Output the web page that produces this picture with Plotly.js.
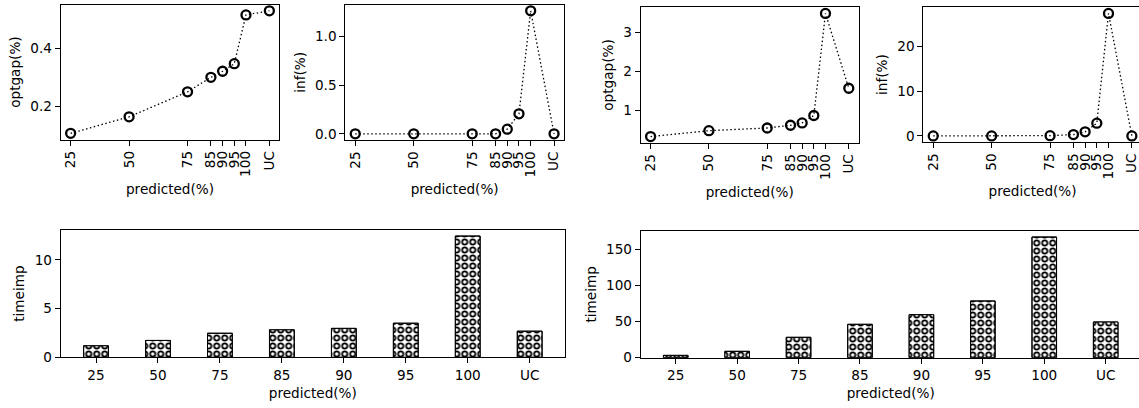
<!DOCTYPE html>
<html>
<head>
<meta charset="utf-8">
<script src="https://cdn.plot.ly/plotly-3.0.1.min.js"></script>
<style>
  html, body { margin: 0; padding: 0; overflow: hidden; background: #fff; }
  #chart { width: 1146px; height: 408px; }
</style>
</head>
<body>
<div id="chart"></div>
<script>
// ---- data ----
const xPos = [25, 50, 75, 85, 90, 95, 100, 110];
const xLabels = ['25', '50', '75', '85', '90', '95', '100', 'UC'];
const categories = ['25', '50', '75', '85', '90', '95', '100', 'UC'];

const optgapA = [0.106, 0.163, 0.249, 0.299, 0.320, 0.346, 0.514, 0.528];
const infA = [0.0, 0.0, 0.0, 0.0, 0.048, 0.205, 1.26, 0.0];
const optgapB = [0.32, 0.47, 0.54, 0.61, 0.67, 0.86, 3.48, 1.56];
const infB = [0.0, 0.0, 0.05, 0.3, 0.9, 2.85, 27.4, 0.0];

const timeimpA = [1.18, 1.73, 2.47, 2.82, 2.97, 3.5, 12.45, 2.68];
const timeimpB = [3.2, 8.8, 28.2, 46.2, 59.5, 78.5, 167, 49.4];

// ---- helpers ----
const W = 1146, H = 408;
const FONT = {family: 'DejaVu Sans, sans-serif', size: 13.6, color: '#000'};
function dx(a, b) { return [a / W, Math.min(1, b / W)]; }
function dy(top, bottom) { return [1 - bottom / H, 1 - top / H]; }
function mlim(arr, lo) {
  const mn = lo !== undefined ? lo : Math.min(...arr), mx = Math.max(...arr);
  const p = (mx - mn) * 0.05;
  return lo !== undefined ? [lo, mx * 1.05] : [mn - p, mx + p];
}
const axBase = {
  showline: true, mirror: true, linecolor: '#000', linewidth: 1,
  ticks: 'outside', ticklen: 5, tickwidth: 1, tickcolor: '#000',
  showgrid: false, zeroline: false, tickfont: FONT, fixedrange: true
};
function xTop(domain, anchor) {
  return Object.assign({}, axBase, {
    domain: domain, anchor: anchor, range: [20.75, 114.25],
    tickmode: 'array', tickvals: xPos, ticktext: xLabels, tickangle: -90,
    title: {text: 'predicted(%)', font: FONT, standoff: 8}
  });
}
function yAx(domain, anchor, range, dtick, title, fmt) {
  const o = Object.assign({}, axBase, {
    domain: domain, anchor: anchor, range: range, dtick: dtick,
    title: {text: title, font: FONT, standoff: 6}
  });
  if (fmt) o.tickformat = fmt;
  return o;
}
function lineTrace(y, xa, ya) {
  return {
    type: 'scatter', mode: 'lines+markers', x: xPos, y: y, xaxis: xa, yaxis: ya,
    line: {color: '#000', width: 1.3, dash: '1.5px,2.5px'},
    marker: {symbol: 'circle-open', size: 9, color: '#000', line: {width: 2.3, color: '#000'}},
    hoverinfo: 'x+y', showlegend: false, cliponaxis: false
  };
}
function barTraces(y, xa, ya) {
  return [
    {
      type: 'bar', x: categories, y: y, xaxis: xa, yaxis: ya, width: 0.4,
      marker: {color: '#fff', line: {color: '#000', width: 1},
        pattern: {shape: '.', fgcolor: '#000', bgcolor: '#fff', size: 8, solidity: 0.6, fillmode: 'replace'}},
      showlegend: false
    },
    {
      type: 'bar', x: categories, y: y, xaxis: xa, yaxis: ya, width: 0.4,
      marker: {color: 'rgba(0,0,0,0)', line: {color: '#000', width: 1},
        pattern: {shape: '.', fgcolor: '#fff', size: 8, solidity: 0.15, fillmode: 'replace'}},
      showlegend: false, hoverinfo: 'skip'
    }
  ];
}

const data = [
  lineTrace(optgapA, 'x', 'y'),
  lineTrace(infA, 'x2', 'y2'),
  lineTrace(optgapB, 'x3', 'y3'),
  lineTrace(infB, 'x4', 'y4'),
  ...barTraces(timeimpA, 'x5', 'y5'),
  ...barTraces(timeimpB, 'x6', 'y6')
];

function xBar(domain, anchor) {
  return Object.assign({}, axBase, {
    domain: domain, anchor: anchor, type: 'category', range: [-0.57, 7.57],
    categoryorder: 'array', categoryarray: categories,
    title: {text: 'predicted(%)', font: FONT, standoff: 6}
  });
}

const layout = {
  width: W, height: H,
  margin: {l: 0, r: 0, t: 0, b: 0},
  paper_bgcolor: '#fff', plot_bgcolor: '#fff',
  font: FONT, showlegend: false, barmode: 'overlay',
  xaxis: xTop(dx(60.7, 279.3), 'y'),
  yaxis: yAx(dy(4.7, 139.5), 'x', mlim(optgapA), 0.2, 'optgap(%)'),
  xaxis2: xTop(dx(345.3, 564), 'y2'),
  yaxis2: yAx(dy(4.7, 140), 'x2', mlim(infA), 0.5, 'inf(%)', '.1f'),
  xaxis3: xTop(dx(640.7, 858.7), 'y3'),
  yaxis3: yAx(dy(7.3, 142.7), 'x3', mlim(optgapB), 1, 'optgap(%)'),
  xaxis4: xTop(dx(923.3, 1141.8), 'y4'),
  yaxis4: yAx(dy(7.3, 142), 'x4', mlim(infB), 10, 'inf(%)'),
  xaxis5: xBar(dx(60.7, 565), 'y5'),
  yaxis5: yAx(dy(230, 357.3), 'x5', mlim(timeimpA, 0), 5, 'timeimp'),
  xaxis6: xBar(dx(640.7, 1140.7), 'y6'),
  yaxis6: yAx(dy(231, 357.7), 'x6', mlim(timeimpB, 0), 50, 'timeimp')
};

Plotly.newPlot('chart', data, layout, {displayModeBar: false, staticPlot: false});
</script>
</body>
</html>
